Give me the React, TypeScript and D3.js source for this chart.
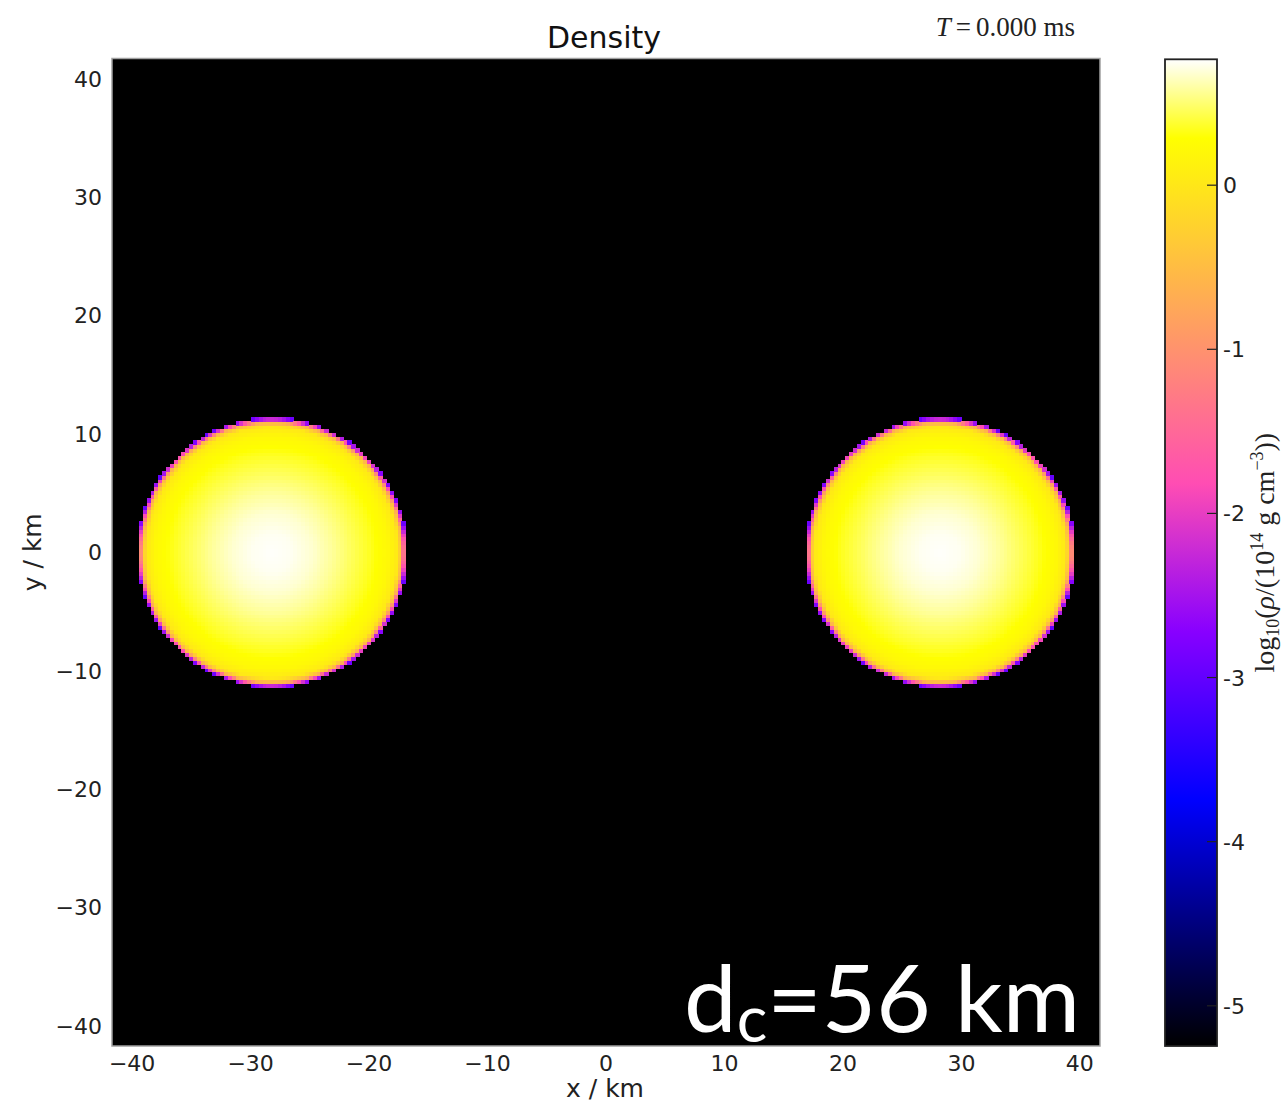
import React, { useMemo } from 'react';
import * as d3 from 'd3';

// Canvas and panel geometry
const W = 1287;
const H = 1102;
const plot = { left: 112, right: 1100, top: 58.5, bottom: 1046 };
const cbar = { left: 1165, right: 1217, top: 59.3, bottom: 1046 };
const extentKm = 41.7;
const gridN = 256;

// Two neutron stars at T = 0 (centres in km)
const starCentersX = [-28.2, 28.2];
const starCentersY = [0, 0];
const starRadius = 11.15;

// Radial log10 density profile (fraction of stellar radius -> log10 rho)
const profileR = [0, 0.15, 0.3, 0.45, 0.6, 0.75, 0.88, 0.95, 0.985, 1.0, 1.02];
const profileLogRho = [0.76, 0.74, 0.68, 0.58, 0.46, 0.34, 0.2, 0.02, -0.6, -1.7, -3.0];
const atmosphereLogRho = -8;

// Axis ticks
const axisTicks = [-40, -30, -20, -10, 0, 10, 20, 30, 40];
const cbarTicks = [0, -1, -2, -3, -4, -5];
const cbarDomain = [-5.245, 0.767];

// gnuplot2 colormap anchors (position along map -> colour)
const cmapPos = [0, 0.25, 0.42, 0.57, 0.92, 1];
const cmapColors = ['#000000', '#0000ff', '#8800ff', '#ff4db3', '#ffff00', '#ffffff'];

const fmtAxis = (v: number) => (v < 0 ? '\u2212' + Math.abs(v) : String(v));

export default function App() {
  const x = d3.scaleLinear().domain([-extentKm, extentKm]).range([plot.left, plot.right]);
  const y = d3.scaleLinear().domain([-extentKm, extentKm]).range([plot.bottom, plot.top]);
  const cbY = d3.scaleLinear().domain(cbarDomain).range([cbar.bottom, cbar.top]);

  const [lo, hi] = cbarDomain;
  const color = d3
    .scaleLinear<string>()
    .domain(cmapPos.map((p) => lo + p * (hi - lo)))
    .range(cmapColors)
    .interpolate(d3.interpolateRgb)
    .clamp(true);

  const profile = d3.scaleLinear().domain(profileR).range(profileLogRho).clamp(true);

  const cells = useMemo(() => {
    const dx = (2 * extentKm) / gridN;
    const out: { x0: number; y0: number; v: number }[] = [];
    for (let i = 0; i < gridN; i++) {
      const cx = -extentKm + (i + 0.5) * dx;
      for (let j = 0; j < gridN; j++) {
        const cy = -extentKm + (j + 0.5) * dx;
        let v = atmosphereLogRho;
        for (let s = 0; s < starCentersX.length; s++) {
          const r = Math.hypot(cx - starCentersX[s], cy - starCentersY[s]) / starRadius;
          if (r <= profileR[profileR.length - 1]) v = Math.max(v, profile(r));
        }
        if (v > lo) out.push({ x0: cx - dx / 2, y0: cy + dx / 2, v });
      }
    }
    return { out, dx };
  }, []);

  const cw = x(cells.dx) - x(0);

  const sans = 'DejaVu Sans, sans-serif';
  const serif = 'Liberation Serif, DejaVu Serif, serif';

  return (
    <svg
      width={W}
      height={H}
      style={{ position: 'absolute', left: 0, top: 0, background: '#fff' }}
      xmlns="http://www.w3.org/2000/svg"
    >
      <defs>
        <linearGradient id="gnuplot2" x1="0" y1="1" x2="0" y2="0">
          {cmapPos.map((p, i) => (
            <stop key={i} offset={p} stopColor={cmapColors[i]} />
          ))}
        </linearGradient>
        <clipPath id="plotClip">
          <rect x={plot.left} y={plot.top} width={plot.right - plot.left} height={plot.bottom - plot.top} />
        </clipPath>
      </defs>

      {/* density field */}
      <rect
        x={plot.left}
        y={plot.top}
        width={plot.right - plot.left}
        height={plot.bottom - plot.top}
        fill={color(atmosphereLogRho)}
      />
      <g clipPath="url(#plotClip)" shapeRendering="crispEdges">
        {cells.out.map((c, k) => (
          <rect key={k} x={x(c.x0)} y={y(c.y0)} width={cw + 0.6} height={cw + 0.6} fill={color(c.v)} />
        ))}
      </g>
      <rect
        x={plot.left}
        y={plot.top}
        width={plot.right - plot.left}
        height={plot.bottom - plot.top}
        fill="none"
        stroke="#a0a0a0"
        strokeWidth={1.5}
      />

      {/* x axis */}
      {axisTicks.map((t) => (
        <text key={'x' + t} x={x(t)} y={1071} textAnchor="middle" fontFamily={sans} fontSize={22} fill="#222">
          {fmtAxis(t)}
        </text>
      ))}
      <text x={605} y={1097} textAnchor="middle" fontFamily={sans} fontSize={25} fill="#222">
        x / km
      </text>

      {/* y axis */}
      {axisTicks.map((t) => (
        <text key={'y' + t} x={102} y={y(t) + 8} textAnchor="end" fontFamily={sans} fontSize={22} fill="#222">
          {fmtAxis(t)}
        </text>
      ))}
      <text
        transform={`translate(41,${(plot.top + plot.bottom) / 2}) rotate(-90)`}
        textAnchor="middle"
        fontFamily={sans}
        fontSize={25}
        fill="#222"
      >
        y / km
      </text>

      {/* titles */}
      <text x={604} y={48} textAnchor="middle" fontFamily={sans} fontSize={30} fill="#111">
        Density
      </text>
      <text x={1075} y={36} textAnchor="end" fontFamily={serif} fontSize={27} fill="#222">
        <tspan fontStyle="italic">T</tspan>
        <tspan dx={5}>=</tspan>
        <tspan dx={5}>0.000 ms</tspan>
      </text>

      {/* annotation */}
      <text x={1080} y={1032} textAnchor="end" fontFamily="Lato, sans-serif" fontSize={94} fill="#fff">
        d
        <tspan fontSize={64} dy={10}>c</tspan>
        <tspan dy={-10}>=56 km</tspan>
      </text>

      {/* colour bar */}
      <rect
        x={cbar.left}
        y={cbar.top}
        width={cbar.right - cbar.left}
        height={cbar.bottom - cbar.top}
        fill="url(#gnuplot2)"
      />
      <rect
        x={cbar.left}
        y={cbar.top}
        width={cbar.right - cbar.left}
        height={cbar.bottom - cbar.top}
        fill="none"
        stroke="#222"
        strokeWidth={1.8}
      />
      {cbarTicks.map((t) => (
        <g key={'c' + t}>
          <line x1={cbar.right - 10} x2={cbar.right} y1={cbY(t)} y2={cbY(t)} stroke="#222" strokeWidth={1.2} />
          <text x={1223} y={cbY(t) + 8} fontFamily={sans} fontSize={22} fill="#222">
            {String(t)}
          </text>
        </g>
      ))}
      <text
        transform={`translate(1274,${(cbar.top + cbar.bottom) / 2}) rotate(-90)`}
        textAnchor="middle"
        fontFamily={serif}
        fontSize={28}
        fill="#222"
      >
        log
        <tspan fontSize={18} dy={5}>10</tspan>
        <tspan dy={-5}>(</tspan>
        <tspan fontStyle="italic">ρ</tspan>
        <tspan>/(10</tspan>
        <tspan fontSize={18} dy={-11}>14</tspan>
        <tspan dy={11}> g cm</tspan>
        <tspan fontSize={18} dy={-11}>−3</tspan>
        <tspan dy={11}>))</tspan>
      </text>
    </svg>
  );
}
